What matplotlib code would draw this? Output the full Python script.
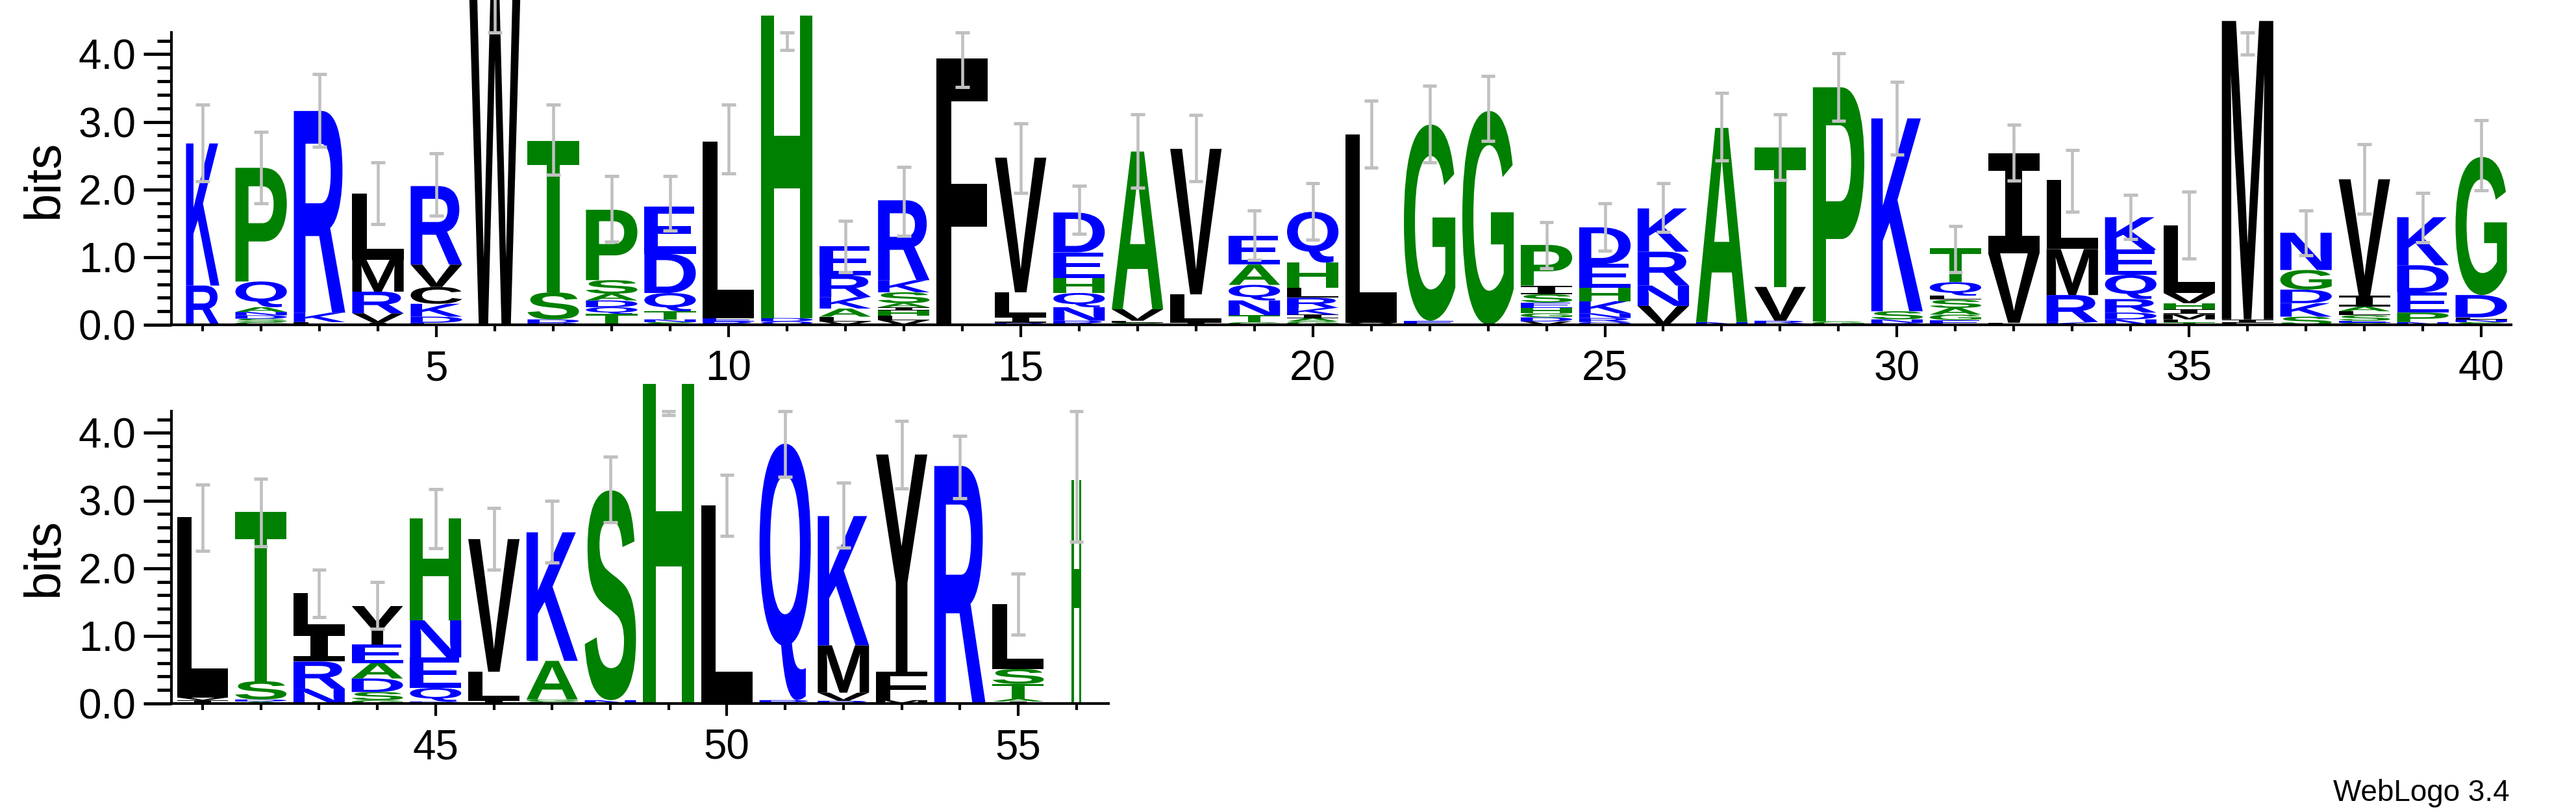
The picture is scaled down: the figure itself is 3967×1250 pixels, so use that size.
"""
Sequence logo (WebLogo 3.4 style) redrawn with matplotlib.
Letters are stretched glyph paths stacked per position, with grey error bars.
"""

import matplotlib
matplotlib.use("Agg")
import matplotlib.pyplot as plt
from matplotlib.font_manager import FontProperties
from matplotlib.patches import PathPatch
from matplotlib.textpath import TextPath
from matplotlib.transforms import Affine2D
from matplotlib.ticker import MultipleLocator

# ---- data: stacks bottom -> top, "letter height(bits)" ----
STACKS_ROW1 = [
    "R.58 K2.1",
    "G.04 S.05 D.05 N.05 A.07 Q.38 P1.68",
    "L.04 K.14 R2.98",
    "I.03 V.14 R.32 M.47 L.98",
    "E.03 D.09 K.19 C.25 V.33 R1.16",
    "W4.95",
    "R.03 D.05 S.4 T2.24",
    "T.16 Q.1 D.1 A.1 S.2 P1.04",
    "S.04 N.04 T.12 Q.27 D.58 E.7",
    "R.05 E.05 L2.61",
    "Q.05 D.05 H4.47",
    "V.05 L.07 A.12 K.17 R.32 E.43",
    "V.07 L.06 H.08 I.05 A.06 S.16 K.18 R1.18",
    "F3.94",
    "R.03 I.09 L.36 V1.99",
    "R.06 N.2 Q.21 H.22 E.38 D.59",
    "G.03 L.03 V.17 A2.33",
    "I.03 L.42 V2.15",
    "G.04 T.1 N.22 Q.23 A.3 E.43",
    "G.05 A.05 I.05 K.1 R.15 L.15 H.37 Q.75",
    "V.03 L2.78",
    "E.06 G2.9",
    "G3.16",
    "V.05 D.06 G.06 H.08 E.08 S.12 I.13 P.6",
    "Q.04 R.06 N.07 K.18 H.2 E.35 D.54",
    "V.28 N.3 R.5 K.64",
    "N.04 A2.87",
    "L.02 R.04 V.5 T2.06",
    "G.05 P3.46",
    "D.03 N.05 S.12 K2.85",
    "E.07 G.08 A.1 S.12 L.06 Q.2 T.5",
    "L.03 V1.03 I1.47",
    "K.04 R.4 M.68 L1.02",
    "N.08 D.1 R.2 Q.36 E.37 K.48",
    "T.04 F.04 M.08 I.07 H.09 V.15 L1.0",
    "L.03 I.05 M4.41",
    "S.12 K.2 D.2 G.29 N.55",
    "G.03 E.03 S.08 L.06 A.07 I.16 V1.72",
    "N.04 P.14 E.3 D.4 K.71",
    "S.04 N.04 L.03 D.33 G2.04",
]
STACKS_ROW2 = [
    "I.05 V.04 L2.67",
    "A.03 D.03 S.27 T2.5",
    "N.22 R.4 I.46 L.55",
    "G.05 S.12 D.2 A.23 E.27 Y.57",
    "D.03 Q.2 E.45 N.55 H1.51",
    "I.05 L.42 V1.96",
    "S.03 G.03 A.57 K1.9",
    "N.05 S3.1",
    "H4.72",
    "L2.93",
    "R.05 Q3.79",
    "R.04 V.12 M.7 K1.91",
    "M.05 F.42 Y3.21",
    "R3.51",
    "I.03 A.04 T.22 S.22 L.96",
    "H3.3",
]
ERR_LO = [2.12, 1.80, 2.63, 1.49, 1.61, 4.32, 2.22, 1.23, 1.39, 2.24,
          4.06, 0.78, 1.32, 3.51, 1.95, 1.34, 2.03, 2.12, 0.96, 1.26,
          2.32, 2.40, 2.72, 0.84, 1.09, 1.37, 2.43, 2.14, 3.01, 2.52,
          0.78, 2.13, 1.67, 1.27, 0.98, 3.99, 1.03, 1.64, 1.22, 1.99,
          2.26, 2.32, 1.28, 1.10, 2.29, 1.98, 2.08, 2.68, 4.26, 2.48,
          3.35, 2.30, 3.18, 3.03, 1.02, 2.39]
ERR_HI = [3.25, 2.85, 3.71, 2.40, 2.53, 5.60, 3.25, 2.20, 2.20, 3.25,
          4.32, 1.54, 2.33, 4.32, 2.98, 2.05, 3.11, 3.10, 1.69, 2.09,
          3.31, 3.53, 3.68, 1.52, 1.80, 2.09, 3.43, 3.11, 4.01, 3.59,
          1.46, 2.96, 2.58, 1.92, 1.97, 4.32, 1.69, 2.67, 1.95, 3.02,
          3.24, 3.32, 1.98, 1.80, 3.17, 2.89, 3.00, 3.65, 4.32, 3.38,
          4.32, 3.26, 4.18, 3.96, 1.92, 4.32]
# column widths (narrow where few sequences cover the position)
WIDTHS = {1: 0.57, 56: 0.17}
DEFAULT_WIDTH = 0.88

BLUE = "#0000ff"
GREEN = "#008000"
COLORS = {}
for c in "KRDEQN":
    COLORS[c] = BLUE
for c in "GSTHPA":
    COLORS[c] = GREEN
for c in "LVIMFWYC":
    COLORS[c] = "black"

GLYPH_FONT = FontProperties(family="Liberation Sans", weight="bold")
# the logo's I has serifs; a monospace bold I gives that shape
SERIF_I_FONT = FontProperties(family="DejaVu Sans Mono", weight="bold")
plt.rcParams["font.family"] = ["Liberation Sans", "DejaVu Sans"]


def parse(stack):
    return [(tok[0], float(tok[1:])) for tok in stack.split()]


def draw_letter(ax, ch, x, y, w, h):
    prop = SERIF_I_FONT if ch == "I" else GLYPH_FONT
    tp = TextPath((0, 0), ch, size=1, prop=prop)
    bb = tp.get_extents()
    t = (Affine2D().translate(-bb.x0, -bb.y0)
         .scale(w / bb.width, h / bb.height).translate(x - w / 2, y))
    ax.add_patch(PathPatch(t.transform_path(tp), fc=COLORS[ch], ec="none",
                           clip_on=False, zorder=2))


def draw_row(ax, stacks, first_pos):
    for i, stack in enumerate(stacks):
        pos = first_pos + i
        w = WIDTHS.get(pos, DEFAULT_WIDTH)
        y = 0.0
        for ch, h in parse(stack):
            draw_letter(ax, ch, pos, y, w, h)
            y += h
        lo, hi = ERR_LO[pos - 1], ERR_HI[pos - 1]
        ax.plot([pos, pos], [lo, hi], color="#c0c0c0", lw=3.3,
                solid_capstyle="butt", clip_on=False, zorder=3)
        for yy in (lo, hi):
            ax.plot([pos - 0.12, pos + 0.12], [yy, yy], color="#c0c0c0",
                    lw=3.6, solid_capstyle="butt", clip_on=False, zorder=3)


def style_axis(ax, xmin, xmax, label_x):
    ax.set_xlim(xmin, xmax)
    ax.set_ylim(0, 4.32)
    for s in ("top", "right"):
        ax.spines[s].set_visible(False)
    for s in ("left", "bottom"):
        ax.spines[s].set_linewidth(3)
    ax.yaxis.set_major_locator(MultipleLocator(1.0))
    ax.yaxis.set_minor_locator(MultipleLocator(0.2))
    ax.yaxis.set_major_formatter(plt.FuncFormatter(lambda v, _: f"{v:.1f}"))
    ax.xaxis.set_major_locator(MultipleLocator(5))
    ax.xaxis.set_minor_locator(MultipleLocator(1))
    ax.tick_params(axis="y", which="major", length=31, width=3.5, pad=8,
                   labelsize=46)
    ax.tick_params(axis="y", which="minor", length=16, width=3.5)
    ax.tick_params(axis="x", which="major", length=14, width=3, pad=14,
                   labelsize=46)
    ax.tick_params(axis="x", which="minor", length=7, width=3)
    ax.set_ylabel("bits", fontsize=56)
    ax.yaxis.set_label_coords(label_x, 0.5)


def main():
    fig = plt.figure(figsize=(39.67, 12.5), dpi=100)
    W, H = 3967.0, 1250.0
    ax1 = fig.add_axes([264 / W, 1 - 500 / H, (3867 - 264) / W, 450 / H])
    ax2 = fig.add_axes([264 / W, 1 - 1083 / H, (1707 - 264) / W, 450 / H])

    draw_row(ax1, STACKS_ROW1, 1)
    draw_row(ax2, STACKS_ROW2, 41)
    style_axis(ax1, 0.465, 40.51, -0.044)
    style_axis(ax2, 40.465, 56.55, -0.110)
    ax2.set_xticks([45, 50, 55])

    fig.text(3865 / W, 1 - 1233 / H, "WebLogo 3.4", ha="right",
             va="baseline", fontsize=33)
    fig.savefig("out.png", dpi=100)


if __name__ == "__main__":
    main()
